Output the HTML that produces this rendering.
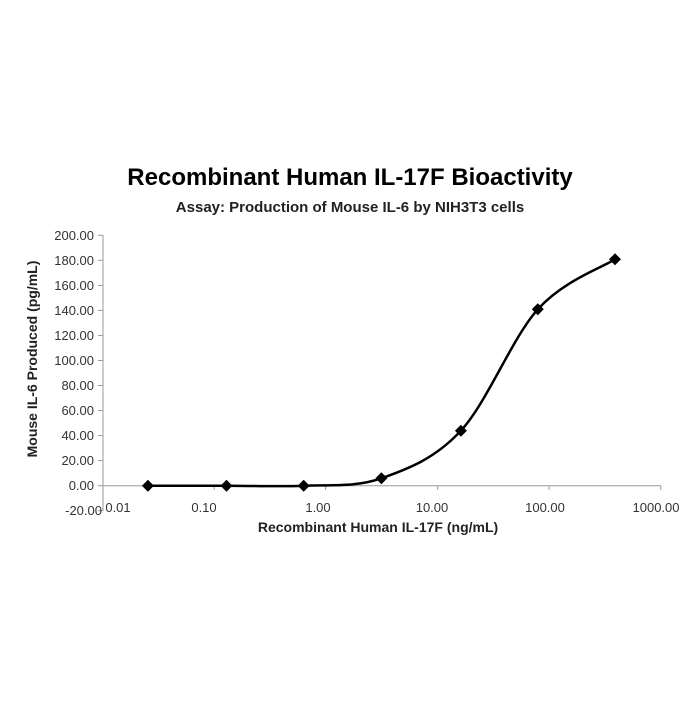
<!DOCTYPE html>
<html><head><style>body{margin:0;background:#fff}</style></head><body>
<svg width="700" height="700" xmlns="http://www.w3.org/2000/svg" font-family="Liberation Sans, sans-serif">
<rect width="700" height="700" fill="#fff"/>
<text x="350" y="185" text-anchor="middle" font-size="24" font-weight="bold" fill="#000">Recombinant Human IL-17F Bioactivity</text>
<text x="350" y="212" text-anchor="middle" font-size="15" font-weight="bold" fill="#222">Assay: Production of Mouse IL-6 by NIH3T3 cells</text>
<g stroke="#999" stroke-width="1">
<line x1="103" y1="235" x2="103" y2="511"/>
<line x1="103" y1="485.7" x2="661" y2="485.7"/>
<line x1="98" y1="235.3" x2="103" y2="235.3"/><line x1="98" y1="260.3" x2="103" y2="260.3"/><line x1="98" y1="285.4" x2="103" y2="285.4"/><line x1="98" y1="310.4" x2="103" y2="310.4"/><line x1="98" y1="335.4" x2="103" y2="335.4"/><line x1="98" y1="360.5" x2="103" y2="360.5"/><line x1="98" y1="385.5" x2="103" y2="385.5"/><line x1="98" y1="410.6" x2="103" y2="410.6"/><line x1="98" y1="435.6" x2="103" y2="435.6"/><line x1="98" y1="460.6" x2="103" y2="460.6"/><line x1="98" y1="485.7" x2="103" y2="485.7"/><line x1="98" y1="510.7" x2="103" y2="510.7"/>
<line x1="214.2" y1="485.7" x2="214.2" y2="490"/><line x1="325.6" y1="485.7" x2="325.6" y2="490"/><line x1="437.7" y1="485.7" x2="437.7" y2="490"/><line x1="549.1" y1="485.7" x2="549.1" y2="490"/><line x1="660.8" y1="485.7" x2="660.8" y2="490"/>
</g>
<g font-size="13" fill="#333" text-anchor="end">
<text x="94" y="240">200.00</text><text x="94" y="265">180.00</text><text x="94" y="290">160.00</text><text x="94" y="315">140.00</text><text x="94" y="340">120.00</text><text x="94" y="365">100.00</text><text x="94" y="390">80.00</text><text x="94" y="415">60.00</text><text x="94" y="440">40.00</text><text x="94" y="465">20.00</text><text x="94" y="490">0.00</text><text x="102" y="515">-20.00</text>
</g>
<g font-size="13" fill="#333" text-anchor="middle">
<text x="118" y="512">0.01</text><text x="204" y="512">0.10</text><text x="318" y="512">1.00</text><text x="432" y="512">10.00</text><text x="545" y="512">100.00</text><text x="656" y="512">1000.00</text>
</g>
<text x="378" y="532" text-anchor="middle" font-size="14" font-weight="bold" fill="#222">Recombinant Human IL-17F (ng/mL)</text>
<text transform="translate(37,359) rotate(-90)" text-anchor="middle" font-size="14" font-weight="bold" fill="#222">Mouse IL-6 Produced (pg/mL)</text>
<path d="M147.9,485.7 C161,485.7 200.5,485.7 226.5,485.7 C252.5,485.7 277.9,486.9 303.7,485.7 C329.5,484.5 355.2,487.5 381.4,478.3 C407.6,469.1 434.8,458.9 460.9,430.7 C487,402.5 512.1,337.9 537.8,309.3 C563.5,280.7 602.1,267.6 615,259.3" fill="none" stroke="#000" stroke-width="2.5"/>
<g fill="#000">
<path d="M147.9,479.7 l6,6 l-6,6 l-6,-6z"/><path d="M226.5,479.7 l6,6 l-6,6 l-6,-6z"/><path d="M303.7,479.7 l6,6 l-6,6 l-6,-6z"/><path d="M381.4,472.3 l6,6 l-6,6 l-6,-6z"/><path d="M460.9,424.7 l6,6 l-6,6 l-6,-6z"/><path d="M537.8,303.3 l6,6 l-6,6 l-6,-6z"/><path d="M615,253.3 l6,6 l-6,6 l-6,-6z"/>
</g>
</svg>
</body></html>
